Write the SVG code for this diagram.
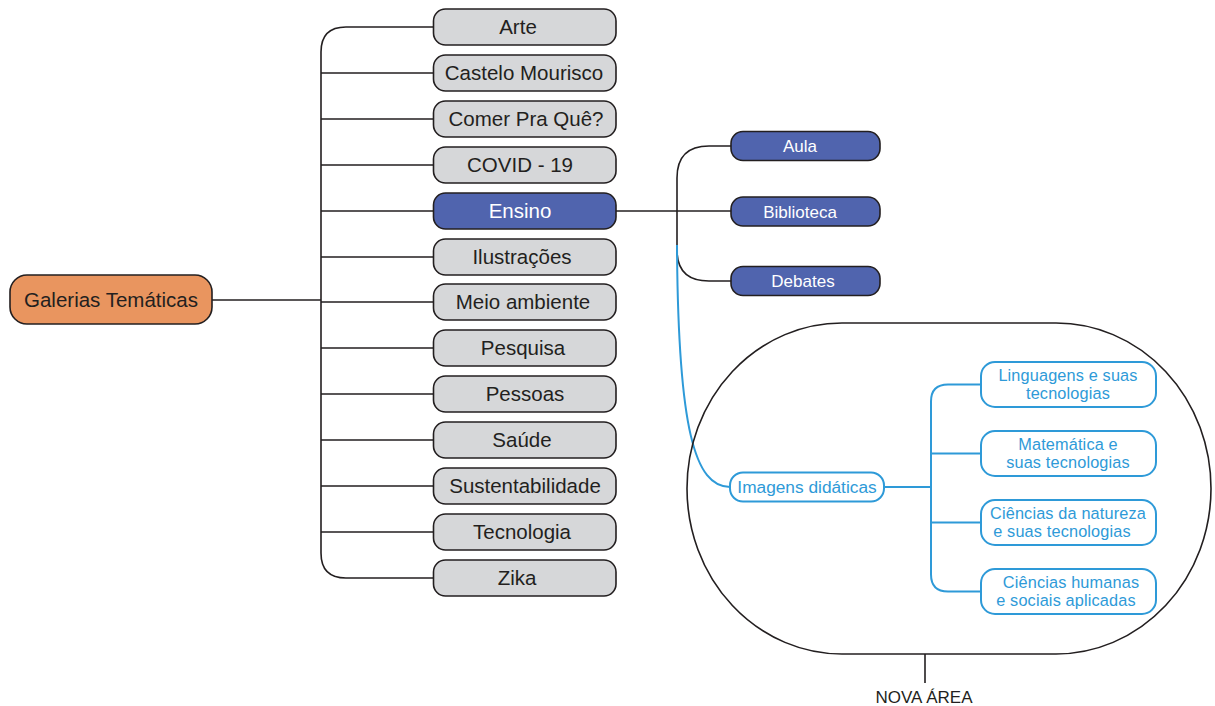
<svg xmlns="http://www.w3.org/2000/svg" width="1215" height="706" viewBox="0 0 1215 706">
<style>
text{font-family:"Liberation Sans",Arial,sans-serif;text-anchor:middle}
.g rect{fill:#D6D7D9;stroke:#231F20;stroke-width:1.6}
.g text{font-size:20.5px;fill:#231F20}
.root rect{fill:#E9955F;stroke:#231F20;stroke-width:1.6}
.root text{font-size:20.5px;fill:#231F20}
.b rect{fill:#5064AE;stroke:#231F20;stroke-width:1.6}
.b text{font-size:17px;fill:#fff}
.bl rect{fill:#fff;stroke:#2E9AD8;stroke-width:2}
.bl text{font-size:17.3px;fill:#2E9AD8}
.bl text.t2{font-size:16.3px;letter-spacing:0.15px}
.k{fill:none;stroke:#231F20;stroke-width:1.6}
.c{fill:none;stroke:#2E9AD8;stroke-width:2}
</style>
<g id="connectors">
<path class="k" d="M212,300H321"/>
<path class="k" d="M433,27H346Q321,27 321,52V553Q321,578 346,578H433"/>
<path class="k" d="M321,73H433M321,119H433M321,165H433M321,211H433M321,257H433M321,302H433M321,348H433M321,394H433M321,440H433M321,486H433M321,532H433"/>
<path class="k" d="M616,211H731"/>
<path class="k" d="M731,146H709Q677,146 677,178V250Q677,281 709,281H731"/>
<path class="c" d="M677,245C678,430 695,487 730,487"/>
<path class="c" d="M884,487H931"/>
<path class="c" d="M981,384.5H948Q931,384.5 931,401.5V574.5Q931,591.5 948,591.5H981M931,453.5H981M931,522.5H981"/>
</g>
<g id="nova-area">
<rect x="687" y="323" width="524" height="331" rx="155" ry="165.5" fill="none" stroke="#231F20" stroke-width="1.6"/>
<path class="k" d="M925,654V683"/>
<text x="924" y="703" style="font-size:17px;fill:#231F20">NOVA ÁREA</text>
</g>
<g id="n-root" class="root"><rect x="10" y="275" width="202" height="49" rx="17"/><text x="111" y="307">Galerias Temáticas</text></g>
<g id="n-arte" class="g"><rect x="433.5" y="9" width="182.5" height="36" rx="12"/><text x="518" y="34">Arte</text></g>
<g id="n-castelo" class="g"><rect x="433.5" y="55" width="182.5" height="36" rx="12"/><text x="524" y="80">Castelo Mourisco</text></g>
<g id="n-comer" class="g"><rect x="433.5" y="101" width="182.5" height="36" rx="12"/><text x="526" y="126">Comer Pra Quê?</text></g>
<g id="n-covid" class="g"><rect x="433.5" y="147" width="182.5" height="36" rx="12"/><text x="520" y="172">COVID - 19</text></g>
<g id="n-ensino" class="g b"><rect x="433.5" y="193" width="182.5" height="36" rx="12"/><text x="520" y="218" style="font-size:20.5px">Ensino</text></g>
<g id="n-ilustracoes" class="g"><rect x="433.5" y="239" width="182.5" height="36" rx="12"/><text x="522" y="264">Ilustrações</text></g>
<g id="n-meio" class="g"><rect x="433.5" y="284" width="182.5" height="36" rx="12"/><text x="523" y="309">Meio ambiente</text></g>
<g id="n-pesquisa" class="g"><rect x="433.5" y="330" width="182.5" height="36" rx="12"/><text x="523" y="355">Pesquisa</text></g>
<g id="n-pessoas" class="g"><rect x="433.5" y="376" width="182.5" height="36" rx="12"/><text x="525" y="401">Pessoas</text></g>
<g id="n-saude" class="g"><rect x="433.5" y="422" width="182.5" height="36" rx="12"/><text x="522" y="447">Saúde</text></g>
<g id="n-sustentabilidade" class="g"><rect x="433.5" y="468" width="182.5" height="36" rx="12"/><text x="525" y="493">Sustentabilidade</text></g>
<g id="n-tecnologia" class="g"><rect x="433.5" y="514" width="182.5" height="36" rx="12"/><text x="522" y="539">Tecnologia</text></g>
<g id="n-zika" class="g"><rect x="433.5" y="560" width="182.5" height="36" rx="12"/><text x="517" y="585">Zika</text></g>
<g id="n-aula" class="b"><rect x="731" y="131.5" width="149" height="29" rx="12"/><text x="800" y="152">Aula</text></g>
<g id="n-biblioteca" class="b"><rect x="731" y="197" width="149" height="29" rx="12"/><text x="800" y="217.5">Biblioteca</text></g>
<g id="n-debates" class="b"><rect x="731" y="266.5" width="149" height="29" rx="12"/><text x="803" y="287">Debates</text></g>
<g id="n-imagens" class="bl"><rect x="730" y="472.5" width="154" height="29" rx="13"/><text x="807" y="493">Imagens didáticas</text></g>
<g id="n-linguagens" class="bl"><rect x="981" y="362" width="175" height="45" rx="14"/><text class="t2" x="1068" y="380.5">Linguagens e suas</text><text class="t2" x="1068" y="398.8">tecnologias</text></g>
<g id="n-matematica" class="bl"><rect x="981" y="431" width="175" height="45" rx="14"/><text class="t2" x="1068" y="449.5">Matemática e</text><text class="t2" x="1068" y="467.8">suas tecnologias</text></g>
<g id="n-natureza" class="bl"><rect x="981" y="500" width="175" height="45" rx="14"/><text class="t2" x="1068" y="518.5">Ciências da natureza</text><text class="t2" x="1062" y="536.8">e suas tecnologias</text></g>
<g id="n-humanas" class="bl"><rect x="981" y="569" width="175" height="45" rx="14"/><text class="t2" x="1071" y="587.5">Ciências humanas</text><text class="t2" x="1066" y="605.8">e sociais aplicadas</text></g>
</svg>
